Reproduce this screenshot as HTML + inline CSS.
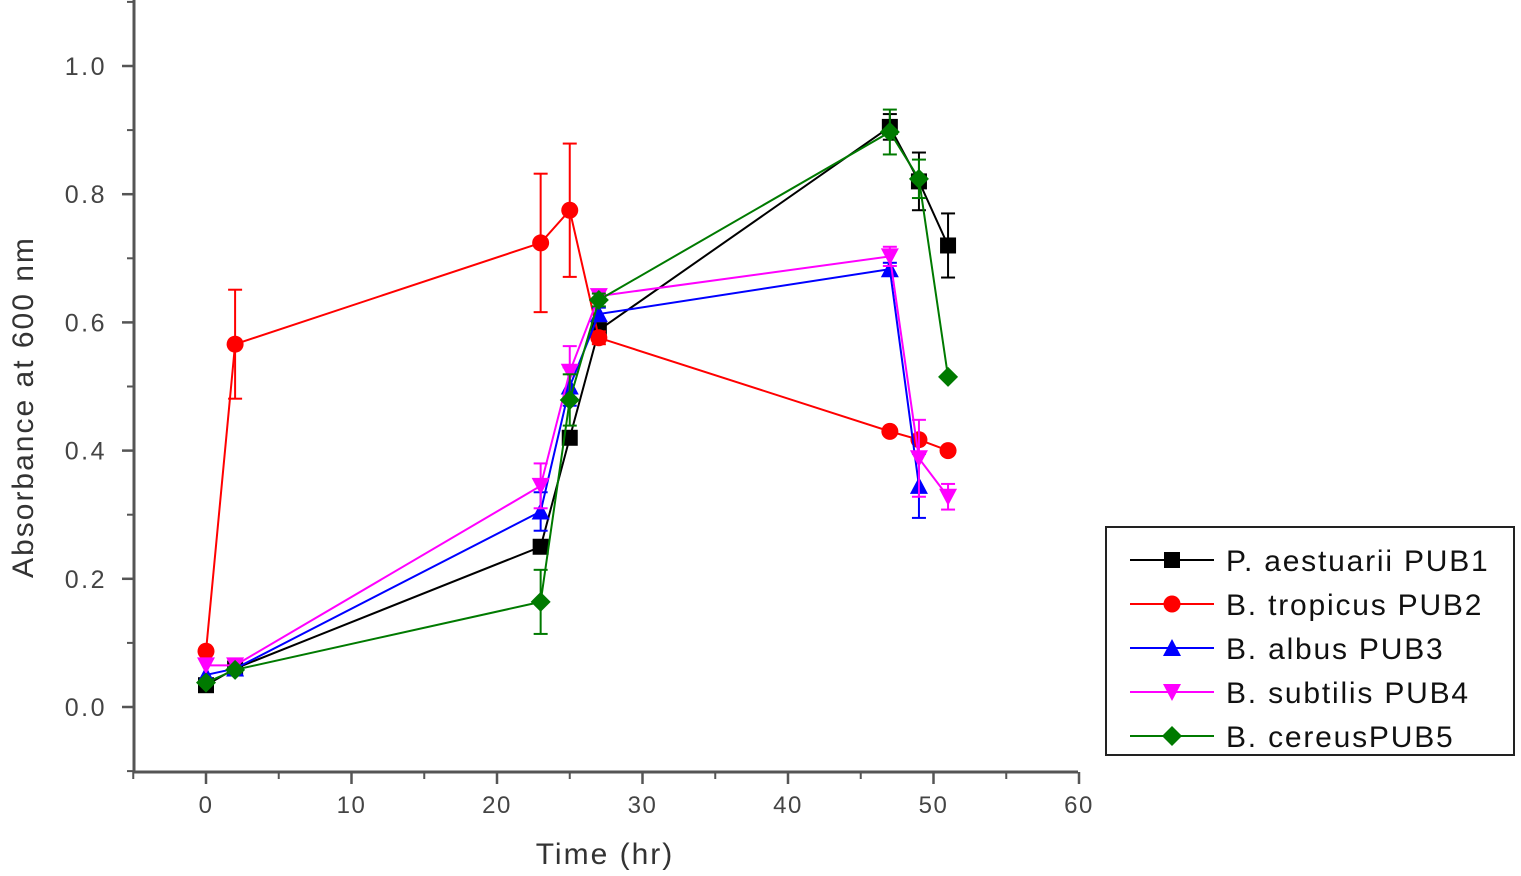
<!DOCTYPE html>
<html><head><meta charset="utf-8"><style>
html,body{margin:0;padding:0;background:#fff;}
svg{display:block;font-family:"Liberation Sans",sans-serif;}
</style></head><body>
<svg id="chart" width="1521" height="876" xmlns="http://www.w3.org/2000/svg">
<g id="axes"></g>
<g id="plot"></g>
<text x="605" y="864" font-size="30" letter-spacing="2" fill="#333" text-anchor="middle">Time (hr)</text>
<text transform="translate(33,407) rotate(-90)" font-size="30" letter-spacing="2" fill="#333" text-anchor="middle">Absorbance at 600 nm</text>
<g id="legend"></g>
</svg>
<script>
const times = [0, 2, 23, 25, 27, 47, 49, 51];
const seriesNames = ["P. aestuarii PUB1", "B. tropicus PUB2", "B. albus PUB3", "B. subtilis PUB4", "B. cereusPUB5"];
const pub1 = [0.034, 0.06, 0.25, 0.42, 0.588, 0.905, 0.82, 0.72];
const pub1Err = [0.005, 0.005, 0.01, 0.01, 0.01, 0.02, 0.045, 0.05];
const pub2 = [0.087, 0.566, 0.724, 0.775, 0.576, 0.43, 0.417, 0.40];
const pub2Err = [0.005, 0.085, 0.108, 0.104, 0.01, 0.005, 0.005, 0.005];
const pub3 = [0.05, 0.06, 0.305, 0.50, 0.613, 0.683, 0.345, null];
const pub3Err = [0.005, 0.005, 0.03, 0.03, 0.01, 0.01, 0.05, 0];
const pub4 = [0.065, 0.065, 0.345, 0.523, 0.641, 0.703, 0.388, 0.328];
const pub4Err = [0.005, 0.005, 0.035, 0.04, 0.01, 0.015, 0.06, 0.02];
const pub5 = [0.038, 0.058, 0.164, 0.479, 0.635, 0.897, 0.824, 0.515];
const pub5Err = [0.005, 0.005, 0.05, 0.04, 0.01, 0.035, 0.03, 0.005];
const xTicks = [0, 10, 20, 30, 40, 50, 60];
const yTicks = [0.0, 0.2, 0.4, 0.6, 0.8, 1.0];
const colors = ["#000000", "#ff0000", "#0000ff", "#ff00ff", "#007a00"];
const markers = ["square", "circle", "up", "down", "diamond"];
const values = [pub1, pub2, pub3, pub4, pub5];
const errs = [pub1Err, pub2Err, pub3Err, pub4Err, pub5Err];

const NS = "http://www.w3.org/2000/svg";
const X = t => 206 + (t) * 14.55;
const Y = v => 707 - v * 641;
function mk(tag, attrs, parent){const e=document.createElementNS(NS,tag);for(const k in attrs)e.setAttribute(k,attrs[k]);parent.appendChild(e);return e;}
const axes=document.getElementById('axes'), plot=document.getElementById('plot'), legend=document.getElementById('legend');
const AX="#555";
let l=mk('line',{x1:134,y1:0,x2:134,y2:773,stroke:AX,'stroke-width':3},axes);


l=mk('line',{x1:133,y1:772,x2:1078,y2:772,stroke:AX,'stroke-width':3},axes);


for(let i=0;i<xTicks.length;i++){
  const x=X(xTicks[i]);
  mk('line',{x1:x,y1:772,x2:x,y2:784,stroke:AX,'stroke-width':2.5},axes);
  if(i<xTicks.length-1) mk('line',{x1:X(xTicks[i]+5),y1:772,x2:X(xTicks[i]+5),y2:779,stroke:AX,'stroke-width':2},axes);
  const t=mk('text',{x:x,y:813,'font-size':24,'letter-spacing':1.5,fill:'#444','text-anchor':'middle'},axes);
  t.textContent=xTicks[i];
  
  
}
mk('line',{x1:X(-5),y1:772,x2:X(-5),y2:779,stroke:AX,'stroke-width':2},axes);
for(let i=0;i<yTicks.length;i++){
  const y=Y(yTicks[i]);
  mk('line',{x1:122,y1:y,x2:134,y2:y,stroke:AX,'stroke-width':2.5},axes);
  mk('line',{x1:127,y1:Y(yTicks[i]+0.1),x2:134,y2:Y(yTicks[i]+0.1),stroke:AX,'stroke-width':2},axes);
  const t=mk('text',{x:107,y:y+9,'font-size':25,'letter-spacing':2.5,fill:'#444','text-anchor':'end'},axes);
  t.textContent=yTicks[i].toFixed(1);
  
  
}
mk('line',{x1:127,y1:Y(-0.1),x2:134,y2:Y(-0.1),stroke:AX,'stroke-width':2},axes);

function marker(type,x,y,c,p,s){
  s=s||8;
  let e;
  if(type==='square') e=mk('rect',{x:x-s,y:y-s,width:2*s,height:2*s,fill:c},p);
  else if(type==='circle') e=mk('circle',{cx:x,cy:y,r:s+0.5,fill:c},p);
  else if(type==='up') e=mk('polygon',{points:`${x},${y-s-1} ${x-s-1},${y+s} ${x+s+1},${y+s}`,fill:c},p);
  else if(type==='down') e=mk('polygon',{points:`${x},${y+s+1} ${x-s-1},${y-s} ${x+s+1},${y-s}`,fill:c},p);
  else e=mk('polygon',{points:`${x},${y-s-2} ${x+s+2},${y} ${x},${y+s+2} ${x-s-2},${y}`,fill:c},p);
  return e;
}
for(let s=0;s<values.length;s++){
  const g=mk('g',{},plot);
  
  
  const pts=[];
  for(let i=0;i<times.length;i++){ if(values[s][i]!=null) pts.push([X(times[i]),Y(values[s][i]),i]); }
  const pl=mk('polyline',{points:pts.map(p=>p[0]+','+p[1]).join(' '),fill:'none',stroke:colors[s],'stroke-width':2},g);
  
  
  for(const p of pts){
    const e=errs[s][p[2]]*641;
    if(e>4){
      mk('line',{x1:p[0],y1:p[1]-e,x2:p[0],y2:p[1]+e,stroke:colors[s],'stroke-width':2},g);
      mk('line',{x1:p[0]-7,y1:p[1]-e,x2:p[0]+7,y2:p[1]-e,stroke:colors[s],'stroke-width':2},g);
      mk('line',{x1:p[0]-7,y1:p[1]+e,x2:p[0]+7,y2:p[1]+e,stroke:colors[s],'stroke-width':2},g);
    }
    const m=marker(markers[s],p[0],p[1],colors[s],g);
    
    
  }
}
const box=mk('rect',{x:1106,y:527,width:408,height:228,fill:'#fff',stroke:'#222','stroke-width':2},legend);


for(let s=0;s<seriesNames.length;s++){
  const y=560+s*44;
  const g=mk('g',{},legend);
  
  
  mk('line',{x1:1130,y1:y,x2:1214,y2:y,stroke:colors[s],'stroke-width':2},g);
  marker(markers[s],1172,y,colors[s],g);
  const t=mk('text',{x:1226,y:y+11,'font-size':30,'letter-spacing':1.8,fill:'#111'},g);
  t.textContent=seriesNames[s];
}
</script>
</body></html>
